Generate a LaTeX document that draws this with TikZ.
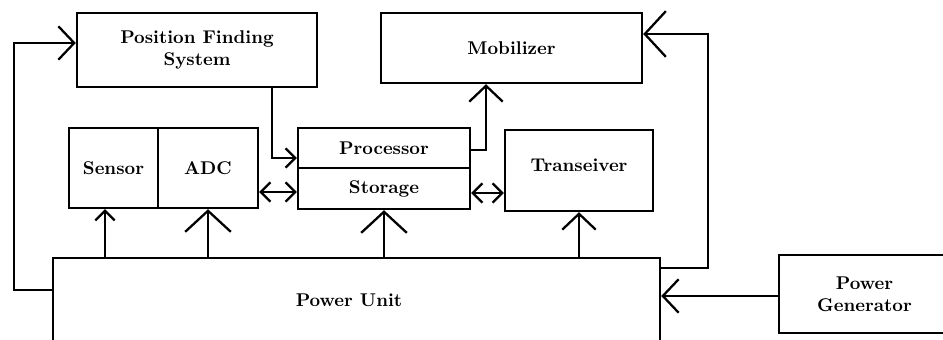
\documentclass[tikz,border=0pt]{standalone}
\usepackage{fontspec}
\usetikzlibrary{arrows.meta}

\tikzset{
  blk/.style={draw, line width=1.4pt, rectangle, inner sep=0pt, align=center,
    font=\bfseries\fontsize{10.5}{12.5}\selectfont},
  wire/.style={line width=1.4pt},
  sbarb/.style={wire, -{Straight Barb[length=5.5pt, width=11pt, line width=1.3pt]}},
  mbarb/.style={wire, -{Straight Barb[length=9pt, width=19pt, line width=1.3pt]}},
  lbarb/.style={wire, -{Straight Barb[length=12pt, width=26pt, line width=1.3pt]}},
  dbarb/.style={wire, {Straight Barb[length=5.5pt, width=11pt, line width=1.3pt]}-{Straight Barb[length=5.5pt, width=11pt, line width=1.3pt]}}
}

\begin{document}
\begin{tikzpicture}[x=0.02cm, y=-0.02cm]

    % picture frame (pixel grid of the original sketch)
    \useasboundingbox (0,0) rectangle (943,340);

    % ==========================================
    % BLOCKS
    % ==========================================
    \node[blk, minimum width=240*0.02cm, minimum height=74*0.02cm] (pfs) at (197,50)
        {Position Finding\\System};
    \node[blk, minimum width=261*0.02cm, minimum height=70*0.02cm] (mob) at (511.5,48)
        {Mobilizer};

    % sensor + converter pair
    \node[blk, minimum width=89*0.02cm, minimum height=80*0.02cm] (sensor) at (113.5,168) {Sensor};
    \node[blk, minimum width=100*0.02cm, minimum height=80*0.02cm] (adc) at (208,168) {ADC};

    % processor stacked on storage
    \node[blk, minimum width=172*0.02cm, minimum height=40*0.02cm] (proc) at (384,148) {Processor};
    \node[blk, minimum width=172*0.02cm, minimum height=41*0.02cm] (stor) at (384,188.5) {Storage};

    \node[blk, minimum width=148*0.02cm, minimum height=81*0.02cm] (trans) at (579,170.5) {};
    \node[font=\bfseries\fontsize{10.5}{12.5}\selectfont] (trtxt) at (579,165) {Transeiver};

    % power blocks (run off the bottom / right edge)
    \node[blk, minimum width=607*0.02cm, minimum height=87*0.02cm] (pu) at (356.5,301.5) {};
    \node[font=\bfseries\fontsize{10.5}{12.5}\selectfont] (putxt) at (349,300) {Power Unit};
    \node[blk, minimum width=171*0.02cm, minimum height=78*0.02cm] (gen) at (864.5,294)
        {Power\\Generator};

    % ==========================================
    % CONNECTORS
    % ==========================================
    % left loop: power unit up to position finding
    \coordinate (lb) at (14,290);
    \coordinate (lt) at (14,43);
    \draw[mbarb] (lb -| pu.west) -- (lb) -- (lt) -- (lt -| pfs.west);

    % position finding down into processor
    \coordinate (pk) at (272,158);
    \draw[sbarb] (pfs.south -| pk) -- (pk) -- (pk -| proc.west);

    % processor up to mobilizer
    \coordinate (mk) at (486,150);
    \draw[mbarb] (mk -| proc.east) -- (mk) -- (mk |- mob.south);

    % data links
    \coordinate (as) at (278,192);
    \draw[dbarb] (as -| adc.east) -- (as -| stor.west);
    \coordinate (st) at (487,193);
    \draw[dbarb] (st -| stor.east) -- (st -| trans.west);

    % supply lines from the power unit
    \coordinate (sk) at (105,230);
    \draw[sbarb] (sk |- pu.north) -- (sk |- sensor.south);
    \foreach \b/\s in {adc/lbarb, stor/lbarb, trans/mbarb}
        \draw[\s] (\b.south |- pu.north) -- (\b.south);

    % right loop: power unit up to mobilizer
    \coordinate (rb) at (708,268);
    \coordinate (rt) at (708,34);
    \draw[lbarb] (rb -| pu.east) -- (rb) -- (rt) -- (rt -| mob.east);

    % generator feeds power unit
    \draw[mbarb] ([yshift=-0.04cm]gen.west) -- ([yshift=-0.04cm]gen.west -| pu.east);

\end{tikzpicture}
\end{document}
